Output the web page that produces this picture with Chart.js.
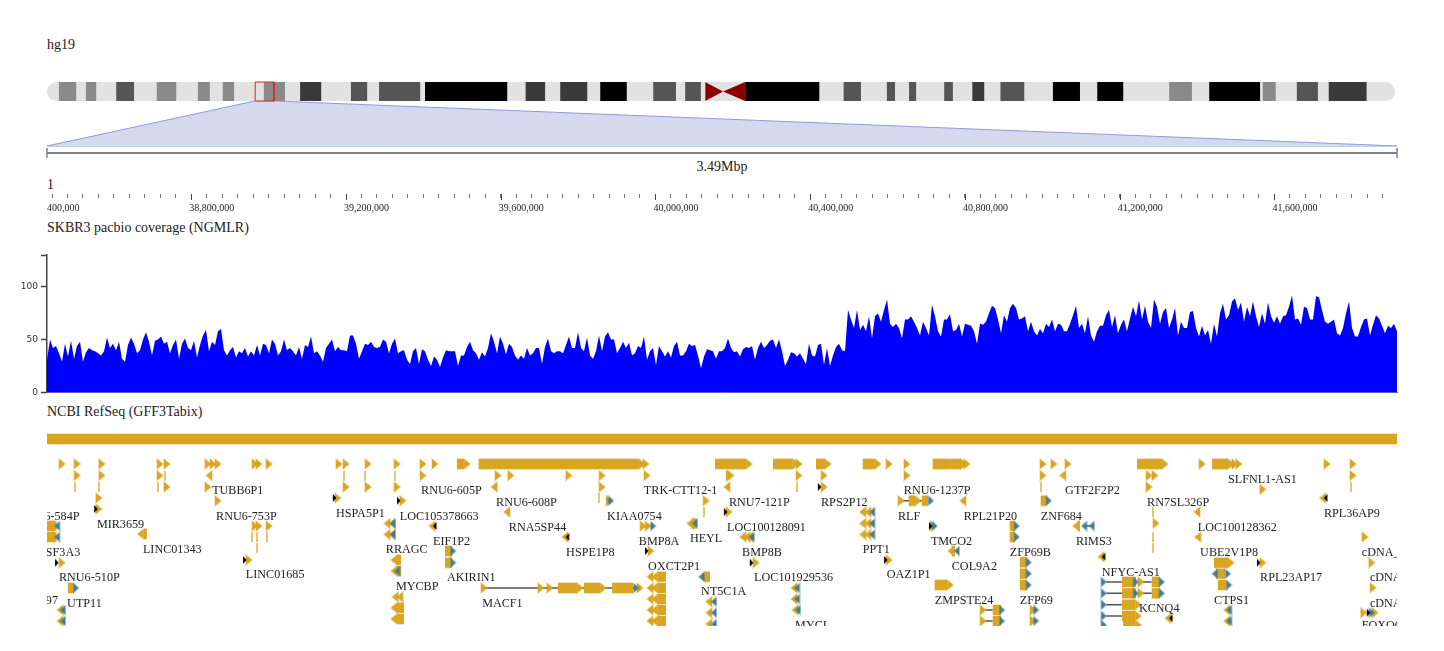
<!DOCTYPE html>
<html>
<head>
<meta charset="utf-8">
<title>hg19 chr1 view</title>
<script src="https://cdn.jsdelivr.net/npm/chart.js@4"></script>
<style>
  html, body { margin: 0; padding: 0; background: #fff; }
  body { position: relative; width: 1444px; height: 651px; overflow: hidden; }
  .panel { position: absolute; }
  .panel canvas { display: block; }
  .txt { position: absolute; font: 14px "Liberation Serif", serif; color: #222; line-height: 16px; white-space: nowrap; }
</style>
</head>
<body>
<div class="txt" style="left:47px;top:37px">hg19</div>
<div class="txt" style="left:622px;width:200px;text-align:center;top:159px">3.49Mbp</div>
<div class="txt" style="left:47px;top:177px">1</div>
<div class="txt" style="left:47px;top:220px">SKBR3 pacbio coverage (NGMLR)</div>
<div class="txt" style="left:47px;top:404px">NCBI RefSeq (GFF3Tabix)</div>

<div class="panel" style="left:46px;top:100px;width:1352px;height:47px"><canvas id="zoomWedge"></canvas></div>
<div class="panel" style="left:46px;top:81px;width:1350px;height:21px"><canvas id="ideogram"></canvas></div>
<div class="panel" style="left:46px;top:146px;width:1352px;height:12px"><canvas id="span"></canvas></div>
<div class="panel" style="left:47px;top:190px;width:1350px;height:28px"><canvas id="ruler"></canvas></div>
<div class="panel" style="left:0;top:250px;width:1398px;height:145px"><canvas id="coverage"></canvas></div>
<div class="panel" style="left:47px;top:430px;width:1350px;height:196px"><canvas id="genes"></canvas></div>

<script>
/* chromosome 1 in Mb */
const chromLength = 249.25;
const viewStartBp = 38427000, viewEndBp = 41917000;
const bandsGrey = [[2.2,5.4],[7.2,9.1],[20.3,23.9],[27.9,30.1],[32.5,34.6],[40.1,44],[207.5,211.7],[224.8,227.2]];
const bandsDark = [[12.8,16.1],[56.2,59.2],[61.4,69],[112.1,116.3],[118,120.9],[147.3,150.5],[155.3,156.8],[159.4,160.7],[165.9,167.5],[176.3,180.7],[231.1,235]];
const bandsDarker = [[46.8,50.7],[88.5,92.1],[94.9,99.9],[171.1,173.3],[237,244]];
const bandsBlack = [[69.9,85.1],[102.3,107.2],[129.1,142.8],[186,191],[194.2,199],[214.9,224.3]];
const centromere = [121.7,125,129.1];
const viewBox = [38.5,41.97];

/* coverage, one value per bin across the view */
const coverage = [
31,50,42,44,37,29,46,34,49,32, 44,48,29,38,42,40,39,37,35,39, 52,42,46,40,48,32,29,45,52,46,
37,40,50,57,48,35,49,50,53,46, 48,37,45,50,32,46,51,42,40,49, 33,45,54,59,39,48,45,58,60,40,
35,40,43,33,39,37,42,34,39,35, 45,35,46,45,37,50,46,35,39,50, 40,42,39,35,43,32,45,43,53,37,
39,35,29,42,46,50,39,43,40,40, 39,54,54,46,32,39,46,45,48,43, 42,43,50,48,37,46,51,37,39,40,
31,27,39,42,27,41,39,31,25,34, 31,24,33,40,39,39,39,25,35,35, 43,48,40,37,31,
38,34,42,56,48,37,53,46,36,46, 43,35,31,35,32,42,35,37,42,42, 27,43,51,39,37,39,39,37,45,53,
42,42,57,42,39,52,35,32,39,54, 39,53,57,50,50,37,42,48,42,47, 35,37,44,42,53,31,39,42,26,44,
39,34,39,33,44,48,35,35,39,46, 44,45,35,23,34,41,40,39,32,39, 39,42,51,42,38,39,34,41,43,42,
44,31,42,48,42,45,49,50,42,50, 39,25,31,38,37,34,37,32,27,46, 35,34,45,46,26,42,25,35,43,46,
40,39,78,69,61,78,59,64,58,72, 51,72,75,67,78,88,65,62,65,61, 51,69,69,72,67,61,54,67,61,54,
83,72,58,53,69,69,74,58,59,65,
53,65,64,63,58,46,65,64,67,75, 82,80,69,56,73,67,80,84,80,69, 70,72,58,67,58,54,60,56,65,62,
69,58,65,64,58,58,65,73,82,61, 65,56,72,54,48,58,63,63,73,78, 62,73,56,64,69,58,70,81,72,87,
69,82,67,61,88,81,65,76,80,61, 69,80,54,67,61,61,76,77,61,53, 63,54,59,46,65,53,75,84,69,73,
86,89,78,85,67,81,72,86,72,62, 75,65,85,72,66,72,65,72,73,81, 92,69,70,64,81,80,69,69,91,90,
78,67,65,67,69,56,54,61,75,86, 61,53,53,62,69,70,54,64,73,70, 63,56,63,61,65,58
];
const coverageTicks = [0,50,100,130];

/* gene track: x is kb from the left edge of the view, lane is the layout row offset */
const viewKb = 3490;
const refseqBand = [[0,3490,39]];
const rightArrows = [
  [1060,1078,64],[1116,1530,64],[1727,1807,64],[1877,1928,64],[1988,2011,64],[2109,2140,64],[2290,2334,64],[2337,2363,64],
  [2818,2882,64],[3012,3053,64],[1755,1760,75.5],[1321,1370,188],[1388,1430,188],[2228,2244,100.7],[3017,3053,162.7],
  [2295,2327,185],[2779,2813,204.7],[2779,2813,216],[2782,2813,225]
];
const leftArrows = [
  [250,258,134],[905,915,160],[905,915,171],[905,923,207.7],[905,923,219],[1579,1600,176.7],[1579,1600,188],[1579,1600,199],
  [1579,1600,210],[1579,1600,221],[1701,1714,176.7]
];
const bodies = [
  [1461,1515,188],[1029,1047,151],[1029,1047,162.7],[2489,2502,126],[2489,2502,137],[54,70,188],[2262,2277,100.7],[2569,2585,100.7],
  [2515,2533,162.3],[2515,2533,173.7],[2515,2533,185],[3022,3045,173.7],[3027,3050,185],[2445,2466,210],[2445,2466,221],
  [2779,2815,182],[2779,2815,193.3],[2856,2877,182],[2856,2877,193.3],[1667,1680,123.5],[2339,2347,151],[2665,2670,126],[0,21,126],[0,21,137]
];
const introns = [
  [1135,1535,188],[2213,2262,100.7],[2681,2701,126],[2425,2445,210],[2425,2445,221],[2738,2779,182],[2738,2779,193.3],
  [2738,2779,204.7],[2738,2779,216],[2833,2856,182],[2833,2856,193.3],[1541,1554,126]
];
const headsRight = [
  [64,[39,78,142,292,310,416,429,442,538,548,574,755,773,830,905,972,1003,1548,1944,2177,2223,2378,2575,2603,2639,2986,3071,3081,3309,3376]],
  [75.5,[78,142,292,972,1166,1199,1349,1435,1551,1944,2009,2223,2575,2849,2864,3376]],
  [87,[310,416,773,830,905,1435,2009,2849]],
  [89.3,[3143]],[98,[134,752]],[100.7,[442,920,1453,1704,2208]],[109,[134]],[112,[1763]],[123.3,[2867]],
  [126,[538,548,574,1541,1554,2290]],[137,[3407]],[151,[1561]],[160,[522,2177]],[162.7,[39,1833,3143,3425]],
  [182,[2828]],[193.3,[2828]],[187.7,[3428]],[188,[1130,1277,1300,1533]],[210,[2420,2549]],[221,[2420,2549]],[212.7,[3404,3433]]
];
const headsLeft = [
  [75.5,[419,2626]],[87,[1156,1758]],[98,[3298]],[100.7,[2368]],[112,[1189,2973,2109,2122]],
  [123.5,[879,892,2109,2122,1662]],[134.5,[879,892,2109,2122]],[126,[8,16,995,2660]],[137,[8,16,1339,1799,1810,1817,2975]],
  [151,[2337]],[156.7,[2725]],[176.7,[1559]],[188,[1559,1931]],[197,[900,912]],[199,[1559,1931]],[201.7,[1711]],
  [210,[34,1559,1934,3050]],[212.7,[1711]],[218.3,[2898]],[221,[34,1559,3050]],[224,[1711]]
];
const tealRight = [
  [100.7,[1458,2285,2590]],[126,[1567,2295,2507]],[137,[2507]],[151,[1050]],[162.7,[1050]],[162.3,[2538]],[173.7,[2538,3053]],
  [185,[2538,3056]],[188,[75,1523]],[182,[2732,2815,2882]],[193.3,[2732,2815,2882]],[204.7,[2732]],[216,[2732]],[225,[2732]],
  [210,[2469,2557]],[221,[2469,2557]],[212.7,[3425]]
];
const tealLeft = [
  [112,[2133]],[123.5,[894,2133,1675]],[134.5,[894,2133]],[126,[26,2681,2701]],[137,[26,1822]],[151,[2352]],[171,[905]],
  [173.7,[3019]],[176.7,[1693]],[188,[1939]],[199,[1939]],[201.7,[1724]],[210,[41,1941,3056]],[212.7,[1724]],[221,[41,3056]],[224,[1724]]
];
const startsRight = [
  [87,[1998]],[98,[744]],[100.7,[910]],[109,[127]],[112,[1755]],[126,[2285]],[151,[1551]],[160,[512,2169]],[162.7,[26,1822,3133]],[212.7,[3417]]
];
const startsLeft = [[98,[3306]],[126,[1003]],[137,[1346]],[156.7,[2732]],[218.3,[2906]]];
const slivers = [
  [75.5,[305,768,822,900]],[87,[72,134,287,1939,2569,3371]],[98,[1427]],[112,[1698,2859]],[137,[530,543,569,2859]],[148,[543,2859]]
];
const geneNames = [
  'RNU6-584P','TUBB6P1','RNU6-753P','MIR3659','LINC01343','SF3A3','RNU6-510P','LINC01685','UTP11','97','HSPA5P1',
  'RNU6-605P','RNU6-608P','RNA5SP44','KIAA0754','LOC105378663','EIF1P2','RRAGC','HSPE1P8','BMP8A','HEYL','TRK-CTT12-1',
  'OXCT2P1','AKIRIN1','MYCBP','MACF1','NT5C1A','RNU7-121P','RPS2P12','RNU6-1237P','RLF','RPL21P20','ZNF684','LOC100128091',
  'TMCO2','PPT1','BMP8B','ZFP69B','COL9A2','OAZ1P1','LOC101929536','ZMPSTE24','ZFP69','MYCL','GTF2F2P2','RN7SL326P','RIMS3',
  'SLFNL1-AS1','LOC100128362','UBE2V1P8','RPL36AP9','NFYC-AS1','RPL23AP17','CTPS1','KCNQ4','cDNA_FLJ','cDNA_FLJ','cDNA_FLJ','FOXO6'
];
const geneNameKb = [
  -73,427,437,129,248,-3,31,514,52,-3,747,967,1161,1194,1448,912,998,876,1342,1530,1662,1543,1554,1034,902,1125,1691,1763,2001,
  2215,2200,2370,2569,1758,2285,2109,1797,2489,2339,2171,1828,2295,2515,1934,2632,2844,2660,3053,2975,2981,3301,2727,3136,3017,
  2823,3399,3420,3420,3399
];
const geneNameLane = [
  117,91,117,125,150,153,178,175,204,201,114,91,102.7,128,117,117,142,150,153,142,139,91,167,178,187,203.7,192,102.7,102.7,91,
  117,117,117,128,142,150,153,153,167,175,178,201,201,225.7,91,102.7,142,80,128,153,114,173,178,201,209,153,178,204,225.7
];

const GOLD = '#daa520', TEAL = '#3f7d96';

Chart.defaults.animation = false;
Chart.defaults.events = [];
Chart.defaults.plugins.legend.display = false;
Chart.defaults.plugins.tooltip.enabled = false;
Chart.defaults.responsive = false;
Chart.defaults.maintainAspectRatio = false;
Chart.defaults.layout.autoPadding = false;

function sizeCanvas(id) {
  const el = document.getElementById(id);
  el.width = el.parentNode.offsetWidth;
  el.height = el.parentNode.offsetHeight;
  return el;
}

/* [a, b] pairs at a fixed y, as one broken line */
function segments(list, y) {
  const out = [];
  list.forEach(s => out.push({ x: s[0], y }, { x: s[1], y }, { x: null, y: null }));
  return out;
}
function laneSegments(list) {
  const out = [];
  list.forEach(s => out.push({ x: s[0], y: s[2] }, { x: s[1], y: s[2] }, { x: null, y: null }));
  return out;
}
function lanePoints(rows) {
  const out = [];
  rows.forEach(r => r[1].forEach(x => out.push({ x, y: r[0] })));
  return out;
}
function hidden(min, max, extra) {
  return Object.assign({ type: 'linear', display: false, min, max }, extra);
}
function strip(data, color, width, extra) {
  return Object.assign({ type: 'scatter', data, showLine: true, borderColor: color, borderWidth: width, pointRadius: 0, spanGaps: false, clip: false, borderCapStyle: 'butt' }, extra);
}

/* ideogram */
new Chart(sizeCanvas('ideogram'), {
  type: 'scatter',
  data: { datasets: [
    strip([{ x: viewBox[0], y: 1 }, { x: viewBox[1], y: 1 }, { x: viewBox[1], y: 0 }, { x: viewBox[0], y: 0 }, { x: viewBox[0], y: 1 }], '#e02020', 1, { order: 0 }),
    strip(segments(bandsBlack, .5), '#000', 19, { order: 1 }),
    strip(segments(bandsDarker, .5), '#3a3a3a', 19, { order: 1 }),
    strip(segments(bandsDark, .5), '#555', 19, { order: 1 }),
    strip(segments(bandsGrey, .5), '#8a8a8a', 19, { order: 1 }),
    { type: 'scatter', showLine: true, order: 1, pointRadius: 0, borderWidth: 0, backgroundColor: '#8b0000', fill: '+1',
      data: [{ x: centromere[0], y: 1 }, { x: centromere[1], y: .5 }, { x: centromere[2], y: 1 }] },
    { type: 'scatter', showLine: true, order: 1, pointRadius: 0, borderWidth: 0,
      data: [{ x: centromere[0], y: 0 }, { x: centromere[1], y: .5 }, { x: centromere[2], y: 0 }] },
    strip([{ x: 1.76, y: .5 }, { x: 247.5, y: .5 }], '#e2e2e2', 19, { borderCapStyle: 'round', order: 2 })
  ] },
  options: {
    layout: { padding: 1 },
    scales: { x: hidden(0, chromLength), y: hidden(0, 1) }
  }
});

/* wedge from the ideogram box down to the full view */
const wedgeMax = chromLength * 1350 / 1348;
new Chart(sizeCanvas('zoomWedge'), {
  type: 'scatter',
  data: { datasets: [
    { showLine: true, pointRadius: 0, fill: 'origin', backgroundColor: '#d5d9ee', borderColor: '#8f9bdc', borderWidth: 1,
      data: [{ x: 0, y: 0 }, { x: 38.43, y: 1 }, { x: 41.92, y: 1 }, { x: wedgeMax, y: 0 }] },
    strip([{ x: 0, y: 0 }, { x: wedgeMax, y: 0 }], '#8f9bdc', 1)
  ] },
  options: { layout: { padding: 1 }, scales: { x: hidden(0, wedgeMax), y: hidden(0, 1) } }
});

/* span bar under the wedge */
new Chart(sizeCanvas('span'), {
  type: 'scatter',
  data: { datasets: [
    strip([{ x: 0, y: .5 }, { x: viewKb, y: .5 }], '#808080', 2),
    strip([{ x: 0, y: 0 }, { x: 0, y: 1 }, { x: null, y: null }, { x: viewKb, y: 0 }, { x: viewKb, y: 1 }], '#444', 1)
  ] },
  options: { layout: { padding: { left: 1, right: 1, top: 2 } }, scales: { x: hidden(0, viewKb), y: hidden(0, 1) } }
});

/* position ruler */
const tickStepBp = 40000, majorEvery = 10, firstTickBp = 38400000;
new Chart(sizeCanvas('ruler'), {
  type: 'scatter',
  data: { datasets: [{ data: [] }] },
  options: {
    scales: {
      y: hidden(0, 1),
      x: {
        type: 'linear', min: viewStartBp, max: viewEndBp, position: 'bottom',
        afterBuildTicks(s) {
          const t = [];
          for (let i = 0; firstTickBp + i * tickStepBp < viewEndBp; i++) {
            t.push({ value: firstTickBp + i * tickStepBp, major: i % majorEvery === 0 });
          }
          s.ticks = t;
        },
        afterFit(s) { s.height = 24; s.paddingLeft = 0; s.paddingRight = 0; },
        border: { display: false },
        grid: { drawOnChartArea: false, tickLength: 4, tickColor: '#777', tickWidth: 1 },
        ticks: {
          autoSkip: false, maxRotation: 0, minRotation: 0, align: 'start', padding: 4, labelOffset: -2,
          font: { family: '"Liberation Serif", serif', size: 10 }, color: '#222',
          callback: (v) => (v - firstTickBp) % (tickStepBp * majorEvery) === 0 ? v.toLocaleString('en-US') : ''
        }
      }
    }
  },
  plugins: [{
    id: 'longMajorTicks',
    afterDraw(chart) {
      const s = chart.scales.x, c = chart.ctx;
      c.save();
      c.strokeStyle = '#444';
      s.ticks.forEach(t => {
        if (!t.major) return;
        const px = Math.round(s.getPixelForValue(t.value)) + .5;
        c.beginPath();
        c.moveTo(px, s.top);
        c.lineTo(px, s.top + 6);
        c.stroke();
      });
      c.restore();
    }
  }]
});

/* coverage */
const coverageBinKb = viewKb / (coverage.length - 1);
new Chart(sizeCanvas('coverage'), {
  type: 'scatter',
  data: { datasets: [{
    showLine: true, pointRadius: 0, borderWidth: 0, fill: 'origin', backgroundColor: '#0000ff', tension: 0,
    data: coverage.map((v, i) => ({ x: i * coverageBinKb, y: v }))
  }] },
  options: {
    layout: { padding: { top: 5, right: 1, bottom: 2.5 } },
    scales: {
      x: {
        type: 'linear', min: 0, max: viewKb,
        afterFit(s) { s.height = 0; s.paddingLeft = 0; s.paddingRight = 0; },
        grid: { display: false }, ticks: { display: false },
        border: { color: '#6a6ac4', width: 1 }
      },
      y: {
        type: 'linear', min: 0, max: 130,
        afterBuildTicks(s) { s.ticks = coverageTicks.map(value => ({ value })); },
        afterFit(s) { s.width = 47; s.paddingTop = 0; s.paddingBottom = 0; },
        border: { color: '#444', width: 1.5 },
        grid: { drawOnChartArea: false, tickLength: 6, tickColor: '#444', tickWidth: 1.5 },
        ticks: {
          autoSkip: false, padding: 3, color: '#333',
          font: { family: '"DejaVu Sans", sans-serif', size: 9 },
          callback: v => v === 130 ? '' : String(v)
        }
      }
    }
  }
});

/* small arrowhead images for the gene glyphs, with a pale edge */
function arrowHead(w, h, dir, color, halo) {
  const pad = 1;
  const cv = document.createElement('canvas');
  cv.width = Math.ceil(w) + pad * 2;
  cv.height = Math.ceil(h) + pad * 2;
  const c = cv.getContext('2d');
  c.translate(pad, pad);
  c.fillStyle = color;
  c.strokeStyle = color;
  c.beginPath();
  if (dir > 0) { c.moveTo(0, 0); c.lineTo(w, h / 2); c.lineTo(0, h); }
  else { c.moveTo(w, 0); c.lineTo(0, h / 2); c.lineTo(w, h); }
  c.closePath();
  if (halo) {
    c.globalAlpha = .35;
    c.lineWidth = 1.5;
    c.stroke();
    c.globalAlpha = 1;
  }
  c.fill();
  return cv;
}
function sliverImage() {
  const cv = document.createElement('canvas');
  cv.width = 2; cv.height = 10;
  const c = cv.getContext('2d');
  c.fillStyle = GOLD;
  c.globalAlpha = .65;
  c.fillRect(0, 0, 2, 10);
  return cv;
}
function glyphs(data, image, order) {
  return { type: 'scatter', data, pointStyle: image, pointRadius: 5, showLine: false, order };
}

const headGapKb = 8;
const allBodies = refseqBand.concat(rightArrows, leftArrows, bodies);
const arrowRightTips = rightArrows.map(a => ({ x: a[1] + headGapKb, y: a[2] }));
const arrowLeftTips = leftArrows.map(a => ({ x: a[0] - headGapKb, y: a[2] }));

new Chart(sizeCanvas('genes'), {
  type: 'scatter',
  data: { datasets: [
    glyphs(lanePoints(startsRight), arrowHead(3.5, 8, 1, '#000'), 1),
    glyphs(lanePoints(startsLeft), arrowHead(3.5, 8, -1, '#000'), 1),
    glyphs(lanePoints(tealRight), arrowHead(5, 9, 1, TEAL, true), 2),
    glyphs(lanePoints(tealLeft), arrowHead(5, 9, -1, TEAL, true), 2),
    glyphs(lanePoints(headsRight).concat(arrowRightTips), arrowHead(6, 10, 1, GOLD, true), 3),
    glyphs(lanePoints(headsLeft).concat(arrowLeftTips), arrowHead(6, 10, -1, GOLD, true), 3),
    glyphs(lanePoints(slivers), sliverImage(), 3),
    strip(laneSegments(allBodies), GOLD, 10, { order: 4 }),
    strip(laneSegments(allBodies), 'rgba(218,165,32,.3)', 12, { order: 5 }),
    strip(laneSegments(introns), '#555', 1.5, { order: 6 })
  ] },
  options: {
    scales: { x: hidden(0, viewKb), y: hidden(30, 226, { reverse: true }) }
  },
  plugins: [{
    id: 'geneNames',
    afterDraw(chart) {
      const c = chart.ctx, sx = chart.scales.x, sy = chart.scales.y;
      c.save();
      c.font = '12.15px "Liberation Serif", serif';
      c.fillStyle = '#222';
      c.textBaseline = 'middle';
      geneNames.forEach((name, i) => {
        c.fillText(name, sx.getPixelForValue(geneNameKb[i]), sy.getPixelForValue(geneNameLane[i]));
      });
      c.restore();
    }
  }]
});
</script>
</body>
</html>
